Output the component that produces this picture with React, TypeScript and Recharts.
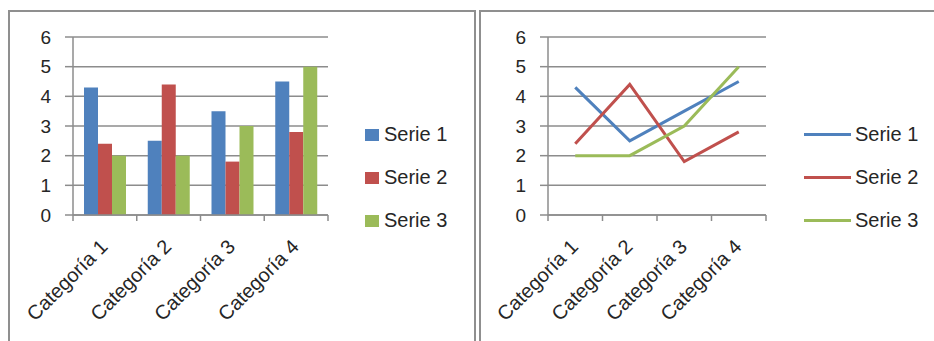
import {
  BarChart,
  Bar,
  ComposedChart,
  Line,
  XAxis,
  YAxis,
  CartesianGrid,
  Legend,
} from "recharts";

const categories = ["Categoría 1", "Categoría 2", "Categoría 3", "Categoría 4"];
const serie1 = [4.3, 2.5, 3.5, 4.5];
const serie2 = [2.4, 4.4, 1.8, 2.8];
const serie3 = [2, 2, 3, 5];
const yTicks = [0, 1, 2, 3, 4, 5, 6];

const series = [
  { key: "s1", name: "Serie 1", color: "#4F81BD" },
  { key: "s2", name: "Serie 2", color: "#C0504D" },
  { key: "s3", name: "Serie 3", color: "#9BBB59" },
];

const data = categories.map((name, i) => ({
  name,
  s1: serie1[i],
  s2: serie2[i],
  s3: serie3[i],
}));

const FONT = "'Liberation Sans', Arial, sans-serif";
const GRID = "#8c8c8c";
const TEXT = "#262626";

function CategoryTick(props: any) {
  const { x, y, payload, index, band, count } = props;
  const left = x - band / 2;
  const tx = x + 4;
  const ty = y + 33;
  return (
    <g>
      <line x1={left} y1={y} x2={left} y2={y + 6} stroke={GRID} strokeWidth={1.5} />
      {index === count - 1 && (
        <line x1={x + band / 2} y1={y} x2={x + band / 2} y2={y + 6} stroke={GRID} strokeWidth={1.5} />
      )}
      <text
        x={tx}
        y={ty}
        textAnchor="end"
        transform={`rotate(-45 ${tx} ${ty})`}
        fill={TEXT}
        fontSize={20}
        fontFamily={FONT}
      >
        {payload.value}
      </text>
    </g>
  );
}

function LegendBox({ payload, marker }: any) {
  return (
    <div style={{ fontFamily: FONT, fontSize: 20, color: TEXT }}>
      {(payload ?? []).map((item: any) => (
        <div key={item.value} style={{ height: 43, display: "flex", alignItems: "center" }}>
          {marker === "square" ? (
            <span style={{ width: 14, height: 12, background: item.color, marginRight: 5 }} />
          ) : (
            <span style={{ width: 47, height: 3, background: item.color, marginRight: 4 }} />
          )}
          <span>{item.value}</span>
        </div>
      ))}
    </div>
  );
}

const yAxisProps = {
  domain: [0, 6] as [number, number],
  ticks: yTicks,
  interval: 0 as const,
  tickSize: 8,
  tickMargin: 14,
  tick: { fill: TEXT, fontSize: 19, fontFamily: FONT },
  tickLine: { stroke: GRID, strokeWidth: 1.5 },
  axisLine: { stroke: GRID, strokeWidth: 1.5 },
};

export default function App() {
  const panel = {
    position: "absolute" as const,
    top: 10,
    height: 360,
    border: "2px solid #8f8f8f",
    boxSizing: "border-box" as const,
  };

  return (
    <div
      style={{
        position: "absolute",
        left: 0,
        top: 0,
        width: 934,
        height: 341,
        overflow: "hidden",
        background: "#fff",
      }}
    >
      <div style={{ ...panel, left: 8, width: 468 }} />
      <div style={{ ...panel, left: 479, width: 470 }} />

      <div style={{ position: "absolute", left: 0, top: 0 }}>
        <BarChart
          width={480}
          height={341}
          data={data}
          margin={{ top: 37, right: 152, left: 0, bottom: 0 }}
          barCategoryGap={11}
          barGap={0}
        >
          <CartesianGrid vertical={false} stroke={GRID} strokeWidth={1.5} />
          <XAxis
            dataKey="name"
            height={126}
            interval={0}
            tickSize={0}
            tickMargin={0}
            tickLine={false}
            axisLine={{ stroke: GRID, strokeWidth: 1.5 }}
            tick={<CategoryTick band={(328 - 73) / 4} count={categories.length} />}
          />
          <YAxis width={73} {...yAxisProps} />
          {series.map((s) => (
            <Bar key={s.key} dataKey={s.key} name={s.name} fill={s.color} isAnimationActive={false} />
          ))}
          <Legend
            layout="horizontal"
            verticalAlign="middle"
            align="center"
            wrapperStyle={{ left: 365, top: 113, width: 110 }}
            content={(p: any) => <LegendBox payload={p.payload} marker="square" />}
          />
        </BarChart>
      </div>

      <div style={{ position: "absolute", left: 480, top: 0 }}>
        <ComposedChart
          width={454}
          height={341}
          data={data}
          margin={{ top: 37, right: 168, left: 0, bottom: 0 }}
        >
          <CartesianGrid vertical={false} stroke={GRID} strokeWidth={1.5} />
          <XAxis
            dataKey="name"
            scale="band"
            height={126}
            interval={0}
            tickSize={0}
            tickMargin={0}
            tickLine={false}
            axisLine={{ stroke: GRID, strokeWidth: 1.5 }}
            tick={<CategoryTick band={(766 - 548) / 4} count={categories.length} />}
          />
          <YAxis width={68} {...yAxisProps} />
          {series.map((s) => (
            <Line
              key={s.key}
              type="linear"
              dataKey={s.key}
              name={s.name}
              stroke={s.color}
              strokeWidth={3}
              dot={false}
              activeDot={false}
              isAnimationActive={false}
            />
          ))}
          <Legend
            layout="horizontal"
            verticalAlign="middle"
            align="center"
            wrapperStyle={{ left: 324, top: 113, width: 130 }}
            content={(p: any) => <LegendBox payload={p.payload} marker="line" />}
          />
        </ComposedChart>
      </div>
    </div>
  );
}
